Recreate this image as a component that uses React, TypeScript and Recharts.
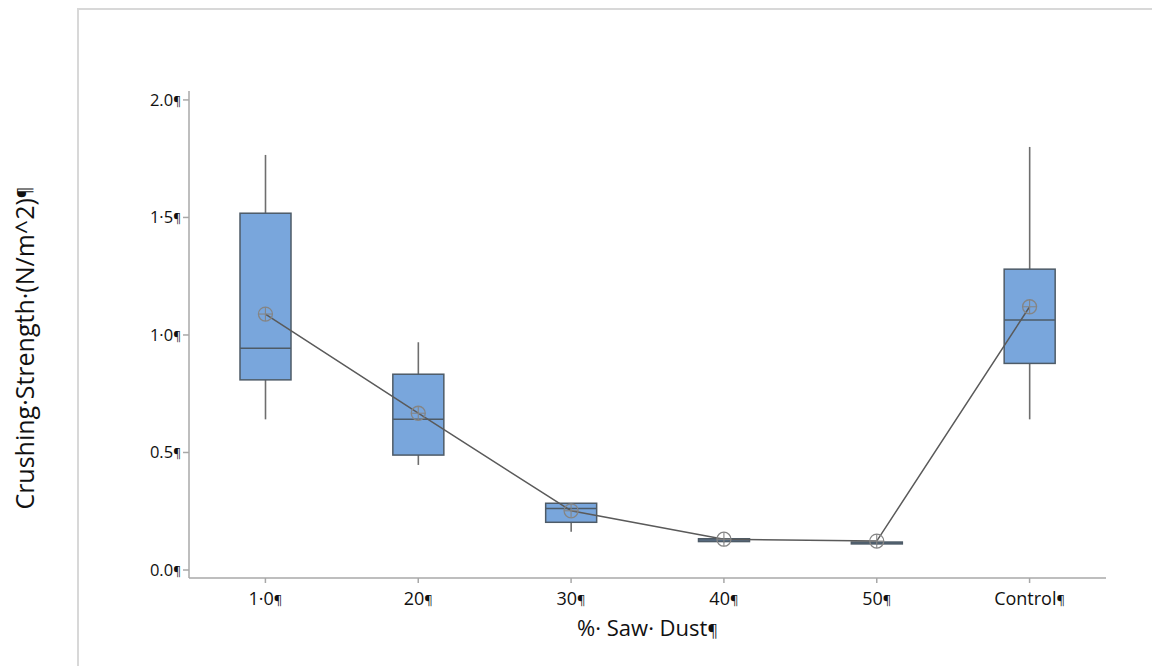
import { Bar, ComposedChart, Line, XAxis, YAxis } from 'recharts'

const groups = ['1·0', '20', '30', '40', '50', 'Control']
const whiskerLow = [0.641, 0.447, 0.163, 0.118, 0.109, 0.641]
const q1 = [0.809, 0.489, 0.203, 0.121, 0.111, 0.879]
const median = [0.943, 0.641, 0.262, 0.128, 0.115, 1.064]
const q3 = [1.518, 0.833, 0.284, 0.133, 0.119, 1.28]
const whiskerHigh = [1.766, 0.969, 0.284, 0.135, 0.121, 1.8]
const means = [1.089, 0.667, 0.252, 0.131, 0.123, 1.12]
const yTicks = [0, 0.5, 1, 1.5, 2]
const yTickLabels = ['0.0', '0.5', '1·0', '1·5', '2.0']

const data = groups.map((group, i) => ({ group, range: [whiskerLow[i], whiskerHigh[i]], q1: q1[i], median: median[i], q3: q3[i], mean: means[i] }))

const font = '"Open Sans", sans-serif'
const ink = '#111'
const boxFill = '#79a6dc'
const boxStroke = '#4e5b67'
const whisker = '#6e6e6e'
const axisColor = '#a8a8a8'

function BoxShape(props: any) {
  const { x, y, width, height, payload } = props
  const top = Math.min(y, y + height)
  const h = Math.abs(height)
  const [lo, hi] = payload.range
  const py = (v: number) => top + ((hi - v) / (hi - lo || 1)) * h
  const cx = x + width / 2
  return <g>
    <line x1={cx} x2={cx} y1={py(hi)} y2={py(payload.q3)} stroke={whisker} strokeWidth={1.6} />
    <line x1={cx} x2={cx} y1={py(payload.q1)} y2={py(lo)} stroke={whisker} strokeWidth={1.6} />
    <rect x={x} y={py(payload.q3)} width={width} height={Math.max(py(payload.q1) - py(payload.q3), 1)} fill={boxFill} stroke={boxStroke} strokeWidth={1.5} />
    <line x1={x} x2={x + width} y1={py(payload.median)} y2={py(payload.median)} stroke={boxStroke} strokeWidth={1.5} />
  </g>
}

function MeanDot(props: any) {
  const { cx, cy, index } = props
  const r = 7
  return <g key={index}>
    <circle cx={cx} cy={cy} r={r} fill="none" stroke="#858585" strokeWidth={1.3} />
    <line x1={cx - r} x2={cx + r} y1={cy} y2={cy} stroke="#858585" strokeWidth={1.1} />
    <line x1={cx} x2={cx} y1={cy - r} y2={cy + r} stroke="#858585" strokeWidth={1.1} />
  </g>
}

function XTick({ x, y, payload }: any) {
  return <text x={x} y={y} dy={20} textAnchor="middle" fontFamily={font} fontWeight={500} fontSize={18} fill={ink}>{payload.value}<tspan fontSize={13}>¶</tspan></text>
}

function YTick({ x, y, payload }: any) {
  const i = yTicks.indexOf(payload.value)
  return <text x={x} y={y} dy="0.36em" textAnchor="end" fontFamily={font} fontWeight={500} fontSize={16.5} fill={ink}>{yTickLabels[i]}<tspan fontSize={12}>¶</tspan></text>
}

export default function App() {
  return <div style={{ position: 'absolute', left: 0, top: 0, width: 1152, height: 666, background: '#fff' }}>
    <div style={{ position: 'absolute', left: 77, top: 8, right: 0, bottom: 0, borderLeft: '2px solid #d8d8d8', borderTop: '2px solid #d8d8d8' }} />
    <ComposedChart width={1152} height={666} data={data} margin={{ top: 91, right: 46, bottom: 58, left: 0 }} style={{ position: 'absolute', left: 0, top: 0 }}>
      <XAxis dataKey="group" height={30} tickSize={5} tickMargin={2} tick={<XTick />} stroke={axisColor} strokeWidth={1.5}
        label={{ content: ({ viewBox }: any) => <text x={viewBox.x + viewBox.width / 2} y={636} textAnchor="middle" fontFamily={font} fontWeight={500} fontSize={22} fill={ink}>%· Saw· Dust<tspan fontSize={16}>¶</tspan></text> }} />
      <XAxis xAxisId="top" orientation="top" dataKey="group" height={0} tick={false} tickLine={false} stroke={axisColor} strokeWidth={1.5} />
      <YAxis type="number" domain={[-0.034, 2.038]} ticks={yTicks} allowDataOverflow width={189} tickSize={6} tickMargin={2} tick={<YTick />} stroke={axisColor} strokeWidth={1.5}
        label={{ content: () => <text x={24} y={348} transform="rotate(-90 24 348)" textAnchor="middle" dominantBaseline="central" fontFamily={font} fontWeight={500} fontSize={25} fill={ink}>Crushing·Strength·(N/m^2)<tspan fontSize={18}>¶</tspan></text> }} />
      <YAxis yAxisId="right" orientation="right" type="number" domain={[-0.034, 2.038]} allowDataOverflow width={0} tick={false} tickLine={false} stroke={axisColor} strokeWidth={1.5} />
      <Bar dataKey="range" barSize={51} shape={<BoxShape />} isAnimationActive={false} />
      <Line dataKey="mean" type="linear" stroke="#5a5a5a" strokeWidth={1.5} dot={<MeanDot />} activeDot={false} isAnimationActive={false} />
    </ComposedChart>
  </div>
}
